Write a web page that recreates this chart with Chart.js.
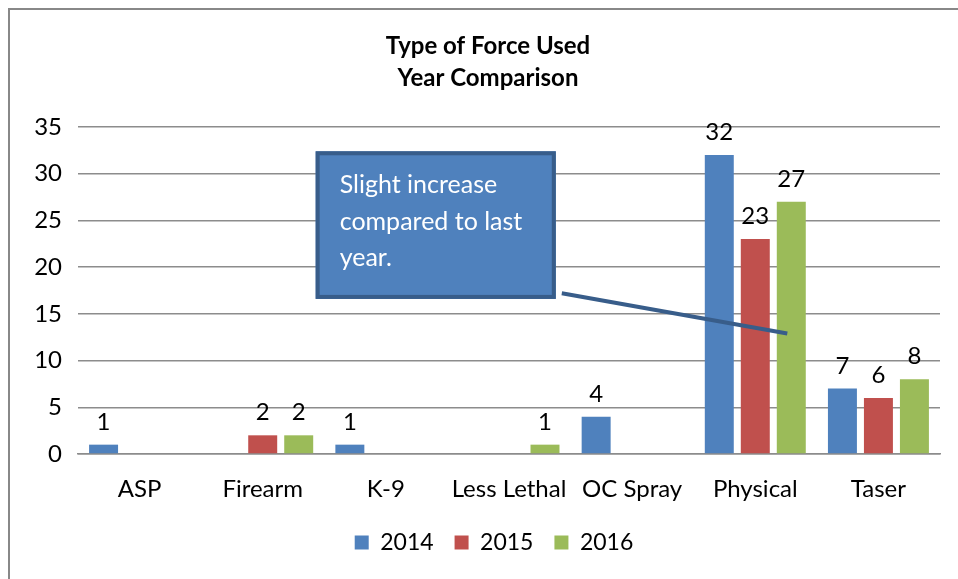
<!DOCTYPE html>
<html>
<head>
<meta charset="utf-8">
<script src="https://cdn.jsdelivr.net/npm/chart.js@4.4.1/dist/chart.umd.min.js"></script>
<style>
  html, body { margin: 0; padding: 0; background: #fff; }
  #wrap { position: relative; width: 958px; height: 579px; overflow: hidden; }
  #frame { position: absolute; left: 8px; top: 8px; width: 980px; height: 600px;
           border-left: 2px solid #888888; border-top: 2px solid #888888; box-sizing: border-box; }
  #chart { position: absolute; left: 0; top: 0; }
</style>
</head>
<body>
<div id="wrap">
  <div id="frame"></div>
  <canvas id="chart" width="958" height="579"></canvas>
</div>
<script>
/* Type of Force Used — year comparison, grouped bars */

const categories = ['ASP', 'Firearm', 'K-9', 'Less Lethal', 'OC Spray', 'Physical', 'Taser'];
const years = ['2014', '2015', '2016'];
const values2014 = [1, 0, 1, 0, 4, 32, 7];
const values2015 = [0, 2, 0, 0, 0, 23, 6];
const values2016 = [0, 2, 0, 1, 0, 27, 8];
const yMax = 35;
const yStep = 5;
const titleLines = ['Type of Force Used', 'Year Comparison'];
const calloutLines = ['Slight increase', 'compared to last', 'year.'];

const colors = {
  blue: '#4f81bd',
  red: '#c0504d',
  green: '#9bbb59',
  grid: '#8c8c8c',
  text: '#000000',
  calloutFill: '#4f81bd',
  calloutEdge: '#385d8a'
};
const FONT = 'Lato, "Open Sans", sans-serif';

// the source frame is cropped on the right, so title/legend sit right of the canvas centre
const FRAME_SHIFT = 20;

// two-line bold title
const titleText = {
  id: 'titleText',
  afterDraw(chart) {
    const ctx = chart.ctx;
    const cx = (chart.legend.left + chart.legend.right) / 2 - 6;
    ctx.save();
    ctx.font = 'bold 24px ' + FONT;
    ctx.fillStyle = colors.text;
    ctx.textAlign = 'center';
    ctx.textBaseline = 'middle';
    titleLines.forEach((line, k) => ctx.fillText(line, cx, 46 + k * 32));
    ctx.restore();
  }
};

// nudge the legend box to the right
const legendShift = {
  id: 'legendShift',
  afterLayout(chart) {
    chart.legend.left += FRAME_SHIFT;
    chart.legend.right += FRAME_SHIFT;
  }
};

// value labels above each non-zero bar
const valueLabels = {
  id: 'valueLabels',
  afterDatasetsDraw(chart) {
    const ctx = chart.ctx;
    ctx.save();
    ctx.font = '24px ' + FONT;
    ctx.fillStyle = colors.text;
    ctx.textAlign = 'center';
    ctx.textBaseline = 'alphabetic';
    chart.data.datasets.forEach((ds, i) => {
      chart.getDatasetMeta(i).data.forEach((bar, j) => {
        const v = ds.data[j];
        if (!v) return;
        ctx.fillText(String(v), bar.x, bar.y - 15);
      });
    });
    ctx.restore();
  }
};

// callout box with a pointer line toward the Physical group
const callout = {
  id: 'callout',
  afterDraw(chart) {
    const ctx = chart.ctx;
    const x = chart.scales.x, y = chart.scales.y;
    const slot = x.getPixelForValue(1) - x.getPixelForValue(0);
    const left = x.getPixelForValue(2) - slot * 0.57;
    const right = x.getPixelForValue(4) - slot * 0.62;
    const top = y.getPixelForValue(32.4);
    const bottom = y.getPixelForValue(16.6);

    ctx.save();
    // pointer
    ctx.strokeStyle = colors.calloutEdge;
    ctx.lineWidth = 4;
    ctx.beginPath();
    ctx.moveTo(right + 6, y.getPixelForValue(17.2));
    ctx.lineTo(x.getPixelForValue(5) + slot * 0.26, y.getPixelForValue(12.9));
    ctx.stroke();

    // box
    ctx.fillStyle = colors.calloutFill;
    ctx.fillRect(left, top, right - left, bottom - top);
    ctx.lineWidth = 4;
    ctx.strokeStyle = colors.calloutEdge;
    ctx.strokeRect(left + 2, top + 2, right - left - 4, bottom - top - 4);

    // text
    ctx.fillStyle = '#ffffff';
    ctx.font = '25px ' + FONT;
    ctx.textAlign = 'left';
    ctx.textBaseline = 'alphabetic';
    calloutLines.forEach((line, k) => {
      ctx.fillText(line, left + 24, top + 42 + k * 36.5);
    });
    ctx.restore();
  }
};

const ctx = document.getElementById('chart').getContext('2d');
new Chart(ctx, {
  type: 'bar',
  data: {
    labels: categories,
    datasets: [
      { label: years[0], data: values2014, backgroundColor: colors.blue },
      { label: years[1], data: values2015, backgroundColor: colors.red },
      { label: years[2], data: values2016, backgroundColor: colors.green }
    ]
  },
  options: {
    responsive: false,
    animation: false,
    devicePixelRatio: 1,
    categoryPercentage: 0.877,
    barPercentage: 0.805,
    layout: { padding: { left: 8, right: 18, top: 127, bottom: 15 } },
    plugins: {
      title: { display: false },
      legend: {
        position: 'bottom',
        labels: {
          color: colors.text,
          font: { family: FONT, size: 23 },
          boxWidth: 14,
          boxHeight: 14,
          padding: 21
        }
      },
      tooltip: { enabled: false }
    },
    scales: {
      x: {
        grid: { display: false, drawTicks: false },
        border: { color: colors.grid, width: 1.5 },
        ticks: { color: colors.text, font: { family: FONT, size: 24 }, padding: 21, maxRotation: 0 },
        afterFit: (s) => { s.height = 56; }
      },
      y: {
        min: 0,
        max: yMax,
        ticks: { stepSize: yStep, color: colors.text, font: { family: FONT, size: 24 }, padding: 16 },
        grid: { color: colors.grid, lineWidth: 1.5, drawTicks: false },
        border: { display: false },
        afterFit: (s) => { s.width = 70; }
      }
    }
  },
  plugins: [legendShift, valueLabels, callout, titleText]
});
</script>
</body>
</html>
